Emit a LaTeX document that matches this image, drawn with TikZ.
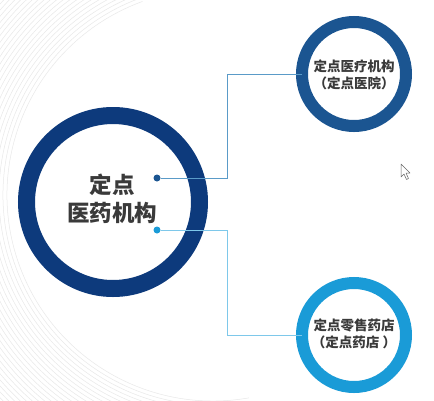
\documentclass[tikz,border=0pt]{standalone}
\usepackage{fontspec}
\newfontfamily\cjk{Noto Sans CJK SC}
\definecolor{navy}{HTML}{0D3A7C}
\definecolor{midblue}{HTML}{1B5591}
\definecolor{skyblue}{HTML}{1A9BD7}
\definecolor{topline}{HTML}{5A9BC8}
\definecolor{botline}{HTML}{7EC8EA}
\definecolor{txt}{HTML}{3A3A3A}
\tikzset{
  ring/.style={circle, draw, inner sep=0pt, outer sep=0pt, fill=white},
  dotnode/.style={circle, fill, inner sep=0pt, minimum size=7pt},
  conn/.style={line width=0.9pt},
  bigtext/.style={text=txt, align=center, font=\cjk\bfseries\fontsize{22.5}{28}\selectfont},
  smalltext/.style={text=txt, align=center, font=\cjk\bfseries\fontsize{13.5}{16.5}\selectfont},
  bgarc/.style={black!9, line width=0.5pt}
}
\begin{document}
\begin{tikzpicture}[x=1pt,y=-1pt]
\useasboundingbox (0,0) rectangle (434,400);
\fill[white] (0,0) rectangle (434,400);
% background arcs
\begin{scope}
\clip (0,0) rectangle (434,400);
\foreach \r in {206,210,...,306}{
  \draw[bgarc] (213,195) ++(-110:\r) arc[start angle=-110, end angle=-280, radius=\r];
}
\end{scope}
% rings
\node[ring, draw=navy, line width=17pt, minimum size=173pt] (main) at (113,202) {};
\node[ring, draw=midblue, line width=12pt, minimum size=104pt] (hosp) at (354,74) {};
\node[ring, draw=skyblue, line width=12pt, minimum size=104pt] (shop) at (354,335) {};
% texts
\node[bigtext] (maintext) at (112,199) {定点\\医药机构};
\node[smalltext] (hosptext) at (354,75) {定点医疗机构\\（定点医院）};
\node[smalltext] (shoptext) at (354,334) {定点零售药店\\（定点药店 ）};
% dots
\node[dotnode, midblue] (d1) at (157,178) {};
\node[dotnode, skyblue] (d2) at (157,230) {};
\coordinate (k1) at (227,178);
\coordinate (k2) at (227,230);
\draw[conn, topline] (d1) -- (k1) |- (hosp.west);
\draw[conn, botline] (d2) -- (k2) |- (shop.west);
% cursor
\draw[black!60, fill=white, line width=0.5pt, line join=round]
  (401,164) -- (401,177) -- (404,174) -- (406.5,179.5) -- (408.5,178.5) -- (406,173) -- (410,173) -- cycle;
\end{tikzpicture}
\end{document}
